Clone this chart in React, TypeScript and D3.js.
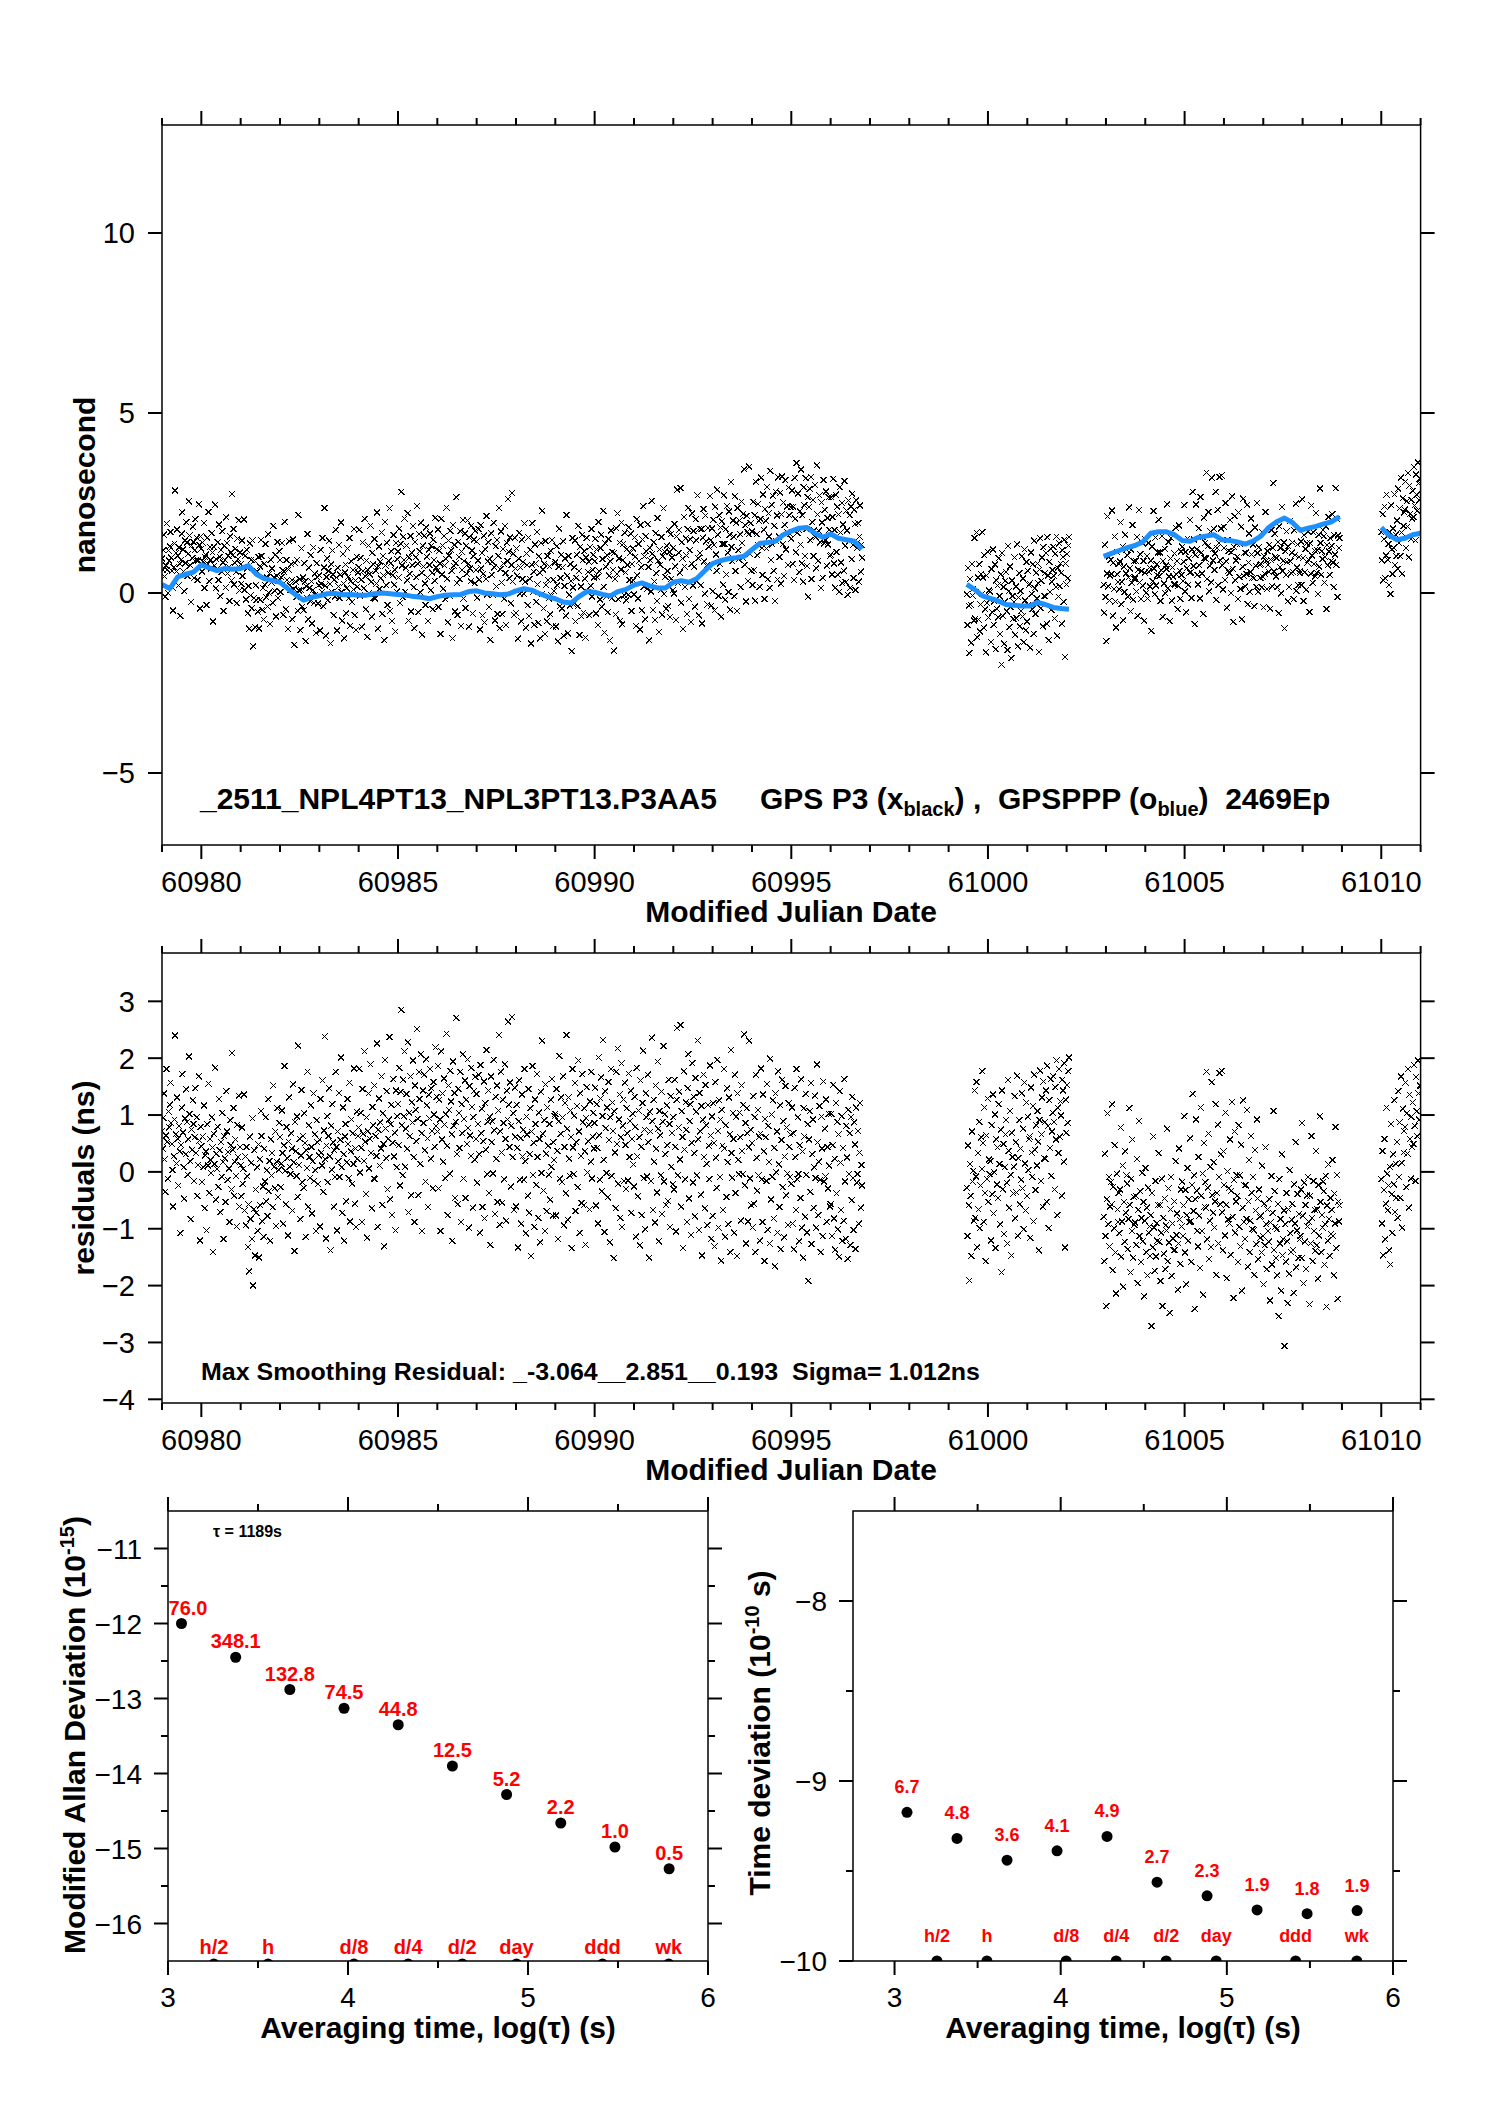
import React from 'react'
import * as d3 from 'd3'

const FONT = 'Liberation Sans, Arial, Helvetica, sans-serif'

// ---- time series (epochs every 24 min, residuals in units of 0.01 ns) ----
const sampleStep = 1 / 60 // days
const smoothEvery = 12 // one smoothed (blue) value per 12 epochs = 0.2 d

const startA = 60979.0
const startB = 60999.46
const startC = 61002.94
const startD = 61010.0

// prettier-ignore
const resA = [
  72,41,95,138,22,-35,64,181,53,-12,106,78,118,157,86,49,3,-61,27,92,240,66,15,131,58,-24,81,36,-108,47,113,172,69,8,-47,94,31,145,88,-5,57,203,102,19,-83,74,39,126,84,-16,61,147,33,96,-42,12,168,55,-121,79,
  45,-18,62,8,117,-64,29,36,-103,84,11,155,-37,58,21,-2,96,43,-141,67,14,183,-49,32,5,79,-26,128,38,-71,52,-9,104,17,-118,63,24,-53,142,71,-14,35,6,-88,91,47,-31,209,39,112,-42,18,57,-7,-96,83,26,134,-61,44,
  12,-43,78,-21,5,136,-68,27,-94,44,-8,-132,-57,-175,62,-83,16,-118,94,-200,-66,38,-147,-31,-72,8,-104,48,-151,22,-59,107,63,-87,-26,-114,41,-17,96,-52,3,-78,128,-34,19,-121,57,-6,33,-62,152,9,-29,71,-95,18,112,-44,4,86,
  61,-27,14,108,33,-91,47,186,2,-57,79,24,-112,53,131,9,-4,68,41,-68,154,17,-139,88,36,-7,97,-44,222,12,58,-83,29,144,-18,63,-28,103,51,-114,38,7,176,-61,82,26,-11,117,44,-73,19,138,-16,66,3,-104,91,52,-21,29,
  57,-96,128,34,11,161,-35,73,238,22,-117,46,98,-18,63,147,27,-138,81,4,119,52,-61,38,-9,176,44,-103,71,19,139,-9,56,201,8,-72,113,31,-121,62,84,-52,17,128,49,-11,157,-87,36,92,-21,68,14,182,-56,41,-97,106,23,63,
  78,181,-1,104,42,-88,146,67,19,212,53,-39,96,-116,71,138,6,58,189,33,-64,114,82,-12,152,-13,63,28,226,-97,74,129,11,87,41,168,-58,103,49,-131,197,76,24,142,-31,58,92,237,-48,84,118,-76,51,163,27,69,-103,143,8,98,
  119,47,183,-24,141,285,82,-6,162,98,212,9,76,137,41,228,-71,104,63,168,-41,122,87,196,26,-88,152,109,54,251,93,-41,176,128,14,207,68,-104,143,86,171,38,-17,198,117,59,-62,136,94,181,23,147,72,-29,158,101,44,219,81,132,
  71,186,-29,127,92,-104,212,57,138,18,164,83,-11,101,243,46,-76,152,109,-3,178,124,66,-121,194,81,139,-46,88,271,31,-57,146,104,42,176,-88,119,68,207,-12,93,161,-46,127,49,198,77,-98,151,64,28,183,114,-63,96,142,21,167,58,
  137,-19,84,171,31,-107,188,68,111,-62,54,159,-82,121,39,214,-4,88,143,-37,97,-128,168,52,89,-3,197,73,-74,132,23,152,-53,108,241,-93,71,176,34,-54,127,86,-13,189,58,-86,143,92,264,118,44,157,-26,81,272,26,103,-67,148,62,
  -61,118,42,-133,89,161,-14,59,-91,136,27,74,-14,181,19,-108,97,66,-42,146,-72,31,112,-148,71,186,-6,51,-97,127,84,-23,172,26,-81,104,58,-124,141,-2,231,67,-33,91,-104,154,32,-69,113,46,-5,84,-49,127,9,163,-77,52,21,98,
  102,-77,146,37,-118,89,204,-12,67,131,-18,96,168,-94,44,121,-38,241,76,-84,131,23,-7,108,61,-134,181,43,-4,99,156,-69,52,116,-27,196,71,-107,138,28,-55,172,87,-59,112,36,-128,95,149,-1,54,83,-66,124,18,176,-12,62,104,41,
  86,148,-59,119,42,-91,201,64,-14,129,166,-34,98,232,21,-106,142,77,-2,113,-45,158,56,-124,96,181,-7,122,72,-152,107,34,-64,176,49,217,-21,92,136,-81,61,191,-97,81,127,-16,157,47,-30,112,68,-15,173,26,89,143,-72,58,102,13,
  -26,132,79,-114,183,27,-43,108,61,-129,161,44,-76,121,213,-11,74,-101,138,96,-8,171,52,-151,106,71,-16,236,89,-67,127,18,-89,152,41,-36,194,76,-122,107,64,-6,141,-74,88,221,-17,101,31,-58,117,47,-51,162,84,-97,133,9,68,-22,
  96,-31,162,44,-105,127,253,-6,78,141,22,258,-61,107,61,-134,177,39,-13,122,74,-88,147,207,-47,89,119,-111,51,191,-19,132,33,-78,165,106,-6,231,57,-102,139,71,-40,116,-147,92,171,26,-64,153,82,14,-94,118,46,-13,187,64,-118,97,
  -77,121,51,-131,158,25,-28,197,72,-98,126,-9,92,-156,109,46,-67,181,41,-114,82,-44,147,17,-92,131,66,-141,214,33,-10,103,58,-107,171,-37,97,-148,138,21,-4,104,61,-86,152,37,-4,118,242,-24,86,-126,112,68,-87,43,231,-12,74,-59,
  51,-98,133,-56,96,-141,171,25,-33,109,-6,62,-121,67,182,-13,-88,136,36,-157,93,61,-16,154,-102,81,17,-126,199,-49,101,-9,126,-82,42,-166,138,-1,71,-107,177,13,-62,117,-136,56,162,-27,89,-115,27,151,-41,78,-3,-94,121,44,-9,66,
  -21,113,-91,68,-136,148,26,-67,181,-13,96,-4,-122,47,-46,163,-98,36,-151,112,62,-79,137,-5,-107,84,-192,57,107,-35,156,-127,31,92,-63,8,134,-11,-98,189,52,-76,18,116,-14,-141,97,41,-113,159,-17,76,-8,127,-88,44,-29,102,11,-61,
  -57,102,-113,47,153,-82,23,-137,121,-38,88,-101,66,-149,142,16,-67,98,-121,42,-86,163,-17,-118,81,25,-153,109,-4,68,-129,96,-50,132,-11,-102,87,48,-136,113,-19,-4,72,-91,34,121,-63,12,-24,
]
// prettier-ignore
const resB = [
  -28,-113,46,-59,-191,14,-42,-148,71,-17,2,-86,143,-81,-8,158,-133,33,-66,88,-99,-24,61,5,
  177,51,-88,113,-37,-157,64,-13,129,-53,22,-4,19,-121,82,-39,136,-73,-1,101,-134,57,-22,43,
  -46,119,14,-92,74,-177,143,-31,49,-109,8,66,91,-19,-126,162,37,-63,107,-5,-147,69,26,-38,
  9,133,-82,52,-36,169,-112,24,91,-57,41,-14,138,-29,76,-101,157,15,-68,122,-43,97,3,58,
  62,-116,148,34,-9,116,-87,171,39,-32,82,11,107,53,-138,91,178,-16,66,131,-61,159,24,87,
  23,143,-53,187,81,-99,126,42,163,-7,71,104,168,88,-31,149,57,196,-76,113,33,181,62,124,
  99,-42,162,143,18,191,-133,127,69,153,86,177,201,
]
// prettier-ignore
const resC = [
  -79,-157,32,-113,-236,-48,103,-92,-9,-131,-61,-18,-57,119,-173,-26,-99,47,-142,-214,-3,-66,-88,-37,
  -108,-31,78,-149,-87,11,-202,-53,-123,36,-72,-6,-21,-136,-83,112,-58,-177,-12,-104,57,-151,-44,-93,
  -89,-42,-128,23,-196,-67,89,-113,-34,-159,-81,-2,-122,-53,-219,-86,7,-141,-63,-182,-28,-107,-96,-148,
  -76,-271,-37,-133,62,-98,-174,-16,-149,-90,-121,-58,33,-123,-58,-192,-107,-12,-236,-81,-144,-47,-171,-94,
  -103,76,-157,-29,-124,-248,-66,-9,-183,-91,-117,-138,-52,-138,19,-111,-73,-207,-126,41,-84,-162,-31,-96,
  -17,-113,-59,98,-142,-32,-198,-76,7,-121,-48,-88,59,-87,-158,-23,137,-69,-6,-241,-48,92,-33,-104,
  -131,26,-77,-169,113,-42,-104,-3,-216,51,-61,-18,-63,176,-119,-28,67,-153,-86,9,-132,158,-41,-72,
  17,-98,-52,119,-181,-37,83,-126,-9,174,-57,31,178,-71,-138,36,-23,-112,104,-58,-187,1,-84,-29,
  -91,57,-146,-33,123,-79,-222,-14,71,-107,-52,-6,-42,-159,82,-97,-6,-131,48,-209,-63,126,-88,-24,
  -118,-24,-83,109,-167,-52,21,-141,-86,63,-37,-101,-9,-103,-181,38,-68,-127,92,-47,-154,-31,-79,-116,
  -77,-142,11,-113,-198,-56,-129,43,-92,-171,-66,-104,-123,-48,-226,-89,-7,-163,-72,107,-138,-34,-97,-152,
  -101,-182,-57,-254,-13,-126,-83,-209,31,-147,-118,-68,-306,-92,-158,-37,-122,-231,-66,-179,3,-108,-141,-84,
  -56,-137,-213,-22,-91,52,-168,-103,-39,-152,-74,-119,-113,-31,-152,86,-77,-196,-19,-123,-58,-171,-42,-96,
  -9,-88,-233,-42,-126,63,-81,-157,-16,-104,-67,-139,37,-129,-66,-188,-23,-112,98,-53,-141,-76,-98,-17,
  -34,-163,-92,-7,-237,-59,-121,13,-83,-148,-46,-109,-67,21,-113,-182,-38,-91,79,-134,-6,-223,-52,-87,
  -59,
]
// prettier-ignore
const resD = [
  -13,-91,37,-147,-32,58,-119,-56,113,-3,-68,-24,-138,9,-163,84,-39,-107,31,-22,126,-71,14,-46,
  53,-81,142,-9,87,-46,168,16,-98,111,34,72,79,157,-27,103,32,181,-63,136,58,-12,97,44,
  122,49,188,81,-16,167,107,63,196,138,92,153,151,
]

// smoothed GPSPPP curve (ns), one value per 0.2 d
// prettier-ignore
const smoothA = [
  0.24,0.12,0.45,0.52,0.58,0.78,0.70,0.62,0.68,0.66,0.68,0.76,0.52,0.40,0.35,0.30,0.12,-0.05,-0.20,-0.12,
  -0.08,-0.02,-0.01,-0.05,-0.04,-0.06,-0.06,-0.02,0.00,-0.02,-0.04,-0.06,-0.10,-0.12,-0.16,-0.10,-0.06,-0.05,-0.04,0.04,
  0.06,0.00,-0.02,-0.05,-0.03,0.06,0.12,0.08,-0.02,-0.10,-0.16,-0.25,-0.28,-0.10,0.04,0.02,-0.04,-0.08,0.04,0.10,
  0.22,0.28,0.20,0.14,0.14,0.30,0.34,0.30,0.40,0.62,0.82,0.90,0.95,0.98,1.02,1.20,1.38,1.40,1.44,1.62,
  1.72,1.80,1.82,1.66,1.55,1.64,1.52,1.48,1.44,1.22,
]
const smoothB = [0.24, 0.1, -0.08, -0.15, -0.22, -0.32, -0.34, -0.36, -0.36, -0.26, -0.32, -0.4, -0.43, -0.45]
// prettier-ignore
const smoothC = [1.02,1.10,1.18,1.26,1.32,1.42,1.66,1.70,1.70,1.62,1.46,1.44,1.54,1.58,1.62,1.48,1.46,1.42,1.36,1.44,1.58,1.82,1.98,2.08,1.96,1.74,1.80,1.85,1.92,1.98,2.12]
const smoothD = [1.82, 1.6, 1.48, 1.52, 1.62, 1.66]

// ---- stability ----
const tauLog = [3.075, 3.376, 3.677, 3.978, 4.279, 4.58, 4.881, 5.182, 5.483, 5.784]
const mdevLog = [-12.0, -12.45, -12.88, -13.13, -13.35, -13.9, -14.28, -14.66, -14.98, -15.27]
const mdevLabels = ['76.0', '348.1', '132.8', '74.5', '44.8', '12.5', '5.2', '2.2', '1.0', '0.5']
const tdevLog = [-9.174, -9.319, -9.44, -9.388, -9.308, -9.562, -9.638, -9.716, -9.737, -9.72]
const tdevLabels = ['6.7', '4.8', '3.6', '4.1', '4.9', '2.7', '2.3', '1.9', '1.8', '1.9']
const markerNames = ['h/2', 'h', 'd/8', 'd/4', 'd/2', 'day', 'ddd', 'wk']
const markerLog = [3.255, 3.556, 4.033, 4.334, 4.635, 4.936, 5.414, 5.782]

// ---- ticks ----
const mjdMajor = [60980, 60985, 60990, 60995, 61000, 61005, 61010]
const mjdMinor = d3.range(60979, 61012).filter((v) => !mjdMajor.includes(v))
const topYTicks = [-5, 0, 5, 10]
const midYTicks = [-4, -3, -2, -1, 0, 1, 2, 3]
const logTauMajor = [3, 4, 5, 6]
const logTauMinor = [3.5, 4.5, 5.5]
const mdevMajor = [-16, -15, -14, -13, -12, -11]
const mdevMinor = [-15.5, -14.5, -13.5, -12.5, -11.5]
const tdevMajor = [-10, -9, -8]
const tdevMinor = [-9.5, -8.5]

const segments = [
  { start: startA, res: resA, smooth: smoothA },
  { start: startB, res: resB, smooth: smoothB },
  { start: startC, res: resC, smooth: smoothC },
  { start: startD, res: resD, smooth: smoothD },
]

const epochs = segments.flatMap((s) =>
  s.res.map((r, i) => ({
    t: s.start + i * sampleStep,
    res: r / 100,
    raw: s.smooth[Math.min(s.smooth.length - 1, Math.round(i / smoothEvery))] + r / 100,
  })),
)

const fmt = (v: number) => (v < 0 ? '\u2212' + Math.abs(v) : String(v))

type Scale = d3.ScaleLinear<number, number>

function Frame({
  x,
  y,
  xMajor,
  xMinor,
  yMajor,
  yMinor,
  yLabels,
  fs,
  labelGap,
}: {
  x: Scale
  y: Scale
  xMajor: number[]
  xMinor: number[]
  yMajor: number[]
  yMinor: number[]
  yLabels: number[]
  fs: number
  labelGap: number
}) {
  const [x0, x1] = x.range()
  const [yb, yt] = y.range()
  const tick = (k: string, a: number, b: number, c: number, d: number) => (
    <line key={k} x1={a} y1={b} x2={c} y2={d} stroke="#000" strokeWidth={2} />
  )
  return (
    <g>
      <rect x={x0} y={yt} width={x1 - x0} height={yb - yt} fill="none" stroke="#000" strokeWidth={1.5} />
      {xMajor.map((v) => (
        <g key={'xM' + v}>
          {tick('a', x(v), yt, x(v), yt - 14)}
          {tick('b', x(v), yb, x(v), yb + 14)}
        </g>
      ))}
      {xMinor.map((v) => (
        <g key={'xm' + v}>
          {tick('a', x(v), yt, x(v), yt - 7)}
          {tick('b', x(v), yb, x(v), yb + 7)}
        </g>
      ))}
      {yMajor.map((v) => (
        <g key={'yM' + v}>
          {tick('a', x0, y(v), x0 - 14, y(v))}
          {tick('b', x1, y(v), x1 + 14, y(v))}
        </g>
      ))}
      {yMinor.map((v) => (
        <g key={'ym' + v}>
          {tick('a', x0, y(v), x0 - 7, y(v))}
          {tick('b', x1, y(v), x1 + 7, y(v))}
        </g>
      ))}
      {yLabels.map((v) => (
        <text key={'yl' + v} x={x0 - 14 - labelGap} y={y(v)} dy="0.36em" textAnchor="end" fontSize={fs}>
          {fmt(v)}
        </text>
      ))}
    </g>
  )
}

function crossPath(pts: [number, number][]) {
  return pts.map(([a, b]) => `M${(a - 3).toFixed(1)},${(b - 3).toFixed(1)}l6,6m-6,0l6,-6`).join('')
}

export default function App() {
  const xT = d3.scaleLinear().domain([60979, 61011]).range([162, 1420.6])
  const yTop = d3.scaleLinear().domain([-7, 13]).range([845, 125])
  const yMid = d3.scaleLinear().domain([-4.065, 3.85]).range([1403, 953])
  const xL = d3.scaleLinear().domain([3, 6]).range([168, 708])
  const yL = d3.scaleLinear().domain([-16.5, -10.5]).range([1961, 1511])
  const xR = d3.scaleLinear().domain([2.75, 6]).range([853, 1393])
  const yR = d3.scaleLinear().domain([-10, -7.5]).range([1961, 1511])

  const topCross = crossPath(epochs.map((e) => [xT(e.t), yTop(e.raw)]))
  const midCross = crossPath(epochs.map((e) => [xT(e.t), yMid(e.res)]))

  const bluePaths = segments.map((s) =>
    d3
      .line<number>()
      .x((d, j) => xT(s.start + j * smoothEvery * sampleStep))
      .y((d) => yTop(d))(s.smooth),
  )

  const xTickLabels = (yb: number) =>
    mjdMajor.map((v) => (
      <text key={'xl' + v} x={xT(v)} y={yb + 47} textAnchor="middle" fontSize={29}>
        {v}
      </text>
    ))

  const red = '#ff0000'

  return (
    <svg
      width={1488}
      height={2105}
      style={{ position: 'absolute', left: 0, top: 0, background: '#fff' }}
      fontFamily={FONT}
    >
      <rect width={1488} height={2105} fill="#fff" />
      <defs>
        <clipPath id="cTop">
          <rect x={162} y={125} width={1258.6} height={720} />
        </clipPath>
        <clipPath id="cMid">
          <rect x={162} y={953} width={1258.6} height={450} />
        </clipPath>
        <clipPath id="cL">
          <rect x={168} y={1511} width={540} height={450} />
        </clipPath>
        <clipPath id="cR">
          <rect x={853} y={1511} width={540} height={450} />
        </clipPath>
      </defs>

      {/* ---------- top panel ---------- */}
      <g clipPath="url(#cTop)">
        <path d={topCross} stroke="#000" strokeWidth={1} fill="none" shapeRendering="crispEdges" />
        {bluePaths.map((d, i) => (
          <path key={i} d={d ?? ''} stroke="#1e90ff" strokeWidth={5} fill="none" strokeLinejoin="round" />
        ))}
      </g>
      <Frame x={xT} y={yTop} xMajor={mjdMajor} xMinor={mjdMinor} yMajor={topYTicks} yMinor={[]} yLabels={topYTicks} fs={29} labelGap={13} />
      {xTickLabels(845)}
      <text x={791} y={922} textAnchor="middle" fontSize={30} fontWeight="bold">
        Modified Julian Date
      </text>
      <text transform="translate(95,485) rotate(-90)" textAnchor="middle" fontSize={30} fontWeight="bold">
        nanosecond
      </text>
      <text x={200} y={809} fontSize={30} fontWeight="bold">
        _2511_NPL4PT13_NPL3PT13.P3AA5
      </text>
      <text x={760} y={809} fontSize={30} fontWeight="bold" style={{ whiteSpace: 'pre' }}>
        GPS P3 (x
        <tspan fontSize={20} dy={7}>
          black
        </tspan>
        <tspan dy={-7}>{') ,  GPSPPP (o'}</tspan>
        <tspan fontSize={20} dy={7}>
          blue
        </tspan>
        <tspan dy={-7}>{')  2469Ep'}</tspan>
      </text>

      {/* ---------- residual panel ---------- */}
      <g clipPath="url(#cMid)">
        <path d={midCross} stroke="#000" strokeWidth={1} fill="none" shapeRendering="crispEdges" />
      </g>
      <Frame x={xT} y={yMid} xMajor={mjdMajor} xMinor={mjdMinor} yMajor={midYTicks} yMinor={[]} yLabels={midYTicks} fs={29} labelGap={13} />
      {xTickLabels(1403)}
      <text x={791} y={1480} textAnchor="middle" fontSize={30} fontWeight="bold">
        Modified Julian Date
      </text>
      <text transform="translate(94,1178) rotate(-90)" textAnchor="middle" fontSize={30} fontWeight="bold">
        residuals (ns)
      </text>
      <text
        x={201}
        y={1380}
        fontSize={24}
        fontWeight="bold"
        style={{ whiteSpace: 'pre' }}
        textLength={779}
        lengthAdjust="spacingAndGlyphs"
      >
        {'Max Smoothing Residual: _-3.064__2.851__0.193  Sigma= 1.012ns'}
      </text>

      {/* ---------- modified Allan deviation ---------- */}
      <Frame x={xL} y={yL} xMajor={logTauMajor} xMinor={logTauMinor} yMajor={mdevMajor} yMinor={mdevMinor} yLabels={mdevMajor} fs={28} labelGap={12} />
      {logTauMajor.map((v) => (
        <text key={'lx' + v} x={xL(v)} y={2007} textAnchor="middle" fontSize={28}>
          {v}
        </text>
      ))}
      <g clipPath="url(#cL)">
        {tauLog.map((t, i) => (
          <circle key={i} cx={xL(t)} cy={yL(mdevLog[i])} r={5.5} fill="#000" />
        ))}
        {markerLog.map((t, i) => (
          <circle key={'m' + i} cx={xL(t)} cy={yL(-16.54)} r={5.5} fill="#000" />
        ))}
      </g>
      {tauLog.map((t, i) => (
        <text
          key={'ml' + i}
          x={Math.max(xL(t), xL.range()[0] + 20)}
          y={yL(mdevLog[i]) - 9}
          textAnchor="middle"
          fontSize={20}
          fontWeight="bold"
          fill={red}
        >
          {mdevLabels[i]}
        </text>
      ))}
      {markerLog.map((t, i) => (
        <text key={'mk' + i} x={xL(t)} y={yL(-16.5) - 7} textAnchor="middle" fontSize={20} fontWeight="bold" fill={red}>
          {markerNames[i]}
        </text>
      ))}
      <text x={213} y={1537} fontSize={16} fontWeight="bold">
        {'\u03c4 = 1189s'}
      </text>
      <text x={438} y={2038} textAnchor="middle" fontSize={30} fontWeight="bold">
        {'Averaging time, log(\u03c4) (s)'}
      </text>
      <text transform="translate(85,1735) rotate(-90)" textAnchor="middle" fontSize={30} fontWeight="bold">
        Modified Allan Deviation (10
        <tspan fontSize={20} dy={-11}>
          -15
        </tspan>
        <tspan dy={11}>)</tspan>
      </text>

      {/* ---------- time deviation ---------- */}
      <Frame x={xR} y={yR} xMajor={logTauMajor} xMinor={logTauMinor} yMajor={tdevMajor} yMinor={tdevMinor} yLabels={tdevMajor} fs={28} labelGap={12} />
      {logTauMajor.map((v) => (
        <text key={'rx' + v} x={xR(v)} y={2007} textAnchor="middle" fontSize={28}>
          {v}
        </text>
      ))}
      <g clipPath="url(#cR)">
        {tauLog.map((t, i) => (
          <circle key={i} cx={xR(t)} cy={yR(tdevLog[i])} r={5.5} fill="#000" />
        ))}
        {markerLog.map((t, i) => (
          <circle key={'m' + i} cx={xR(t)} cy={yR(-10)} r={5.5} fill="#000" />
        ))}
      </g>
      {tauLog.map((t, i) => (
        <text key={'tl' + i} x={xR(t)} y={yR(tdevLog[i]) - 19} textAnchor="middle" fontSize={18} fontWeight="bold" fill={red}>
          {tdevLabels[i]}
        </text>
      ))}
      {markerLog.map((t, i) => (
        <text key={'tk' + i} x={xR(t)} y={yR(-10) - 19} textAnchor="middle" fontSize={18} fontWeight="bold" fill={red}>
          {markerNames[i]}
        </text>
      ))}
      <text x={1123} y={2038} textAnchor="middle" fontSize={30} fontWeight="bold">
        {'Averaging time, log(\u03c4) (s)'}
      </text>
      <text transform="translate(770,1733) rotate(-90)" textAnchor="middle" fontSize={30} fontWeight="bold">
        Time deviation (10
        <tspan fontSize={20} dy={-11}>
          -10
        </tspan>
        <tspan dy={11}> s)</tspan>
      </text>
    </svg>
  )
}
